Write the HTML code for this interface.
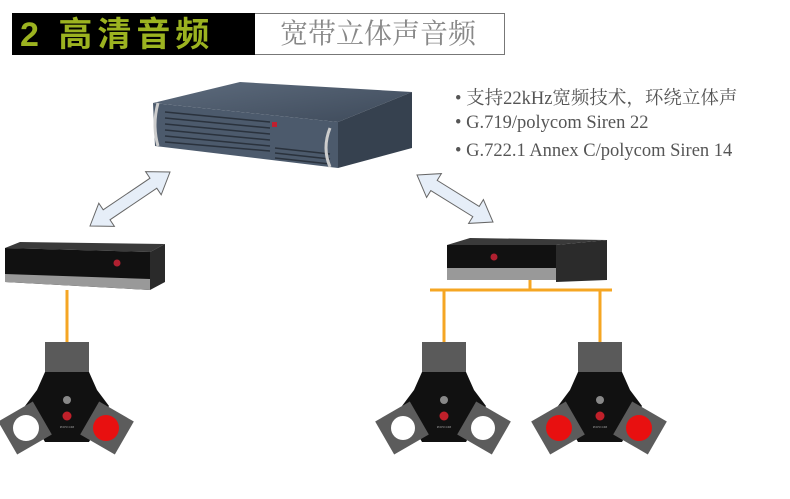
<!DOCTYPE html>
<html><head><meta charset="utf-8"><style>
body{margin:0;background:#fff;width:790px;height:499px;overflow:hidden;position:relative;font-family:"Liberation Serif","Noto Serif CJK SC",serif}
.t{position:absolute;left:455px;font-size:18.5px;color:#555;white-space:nowrap}
</style></head><body>
<div style="position:absolute;left:12px;top:13px;width:243px;height:42px;background:#000"></div>
<div style="position:absolute;left:20px;top:13px;height:42px;line-height:44px;font-family:'Liberation Sans','Noto Sans CJK SC',sans-serif;font-weight:bold;font-size:34px;color:#9cb320;letter-spacing:5px">2&nbsp;高清音频</div>
<div style="position:absolute;left:255px;top:13px;width:249px;height:40px;border:1px solid #777;border-left:none;background:#fff"></div>
<div style="position:absolute;left:280px;top:13px;height:42px;line-height:44px;font-size:28px;color:#888;font-family:'Liberation Serif','Noto Serif CJK SC',serif">宽带立体声音频</div>
<div class="t" style="top:84px">• 支持22kHz宽频技术，环绕立体声</div>
<div class="t" style="top:113px">• G.719/polycom Siren 22</div>
<div class="t" style="top:141px">• G.722.1 Annex C/polycom Siren 14</div>
<svg width="790" height="499" style="position:absolute;left:0;top:0">
<defs>
<linearGradient id="top" x1="0" y1="0" x2="1" y2="1"><stop offset="0" stop-color="#5d6b7d"/><stop offset="1" stop-color="#3e4a5a"/></linearGradient>
<g id="mic">
<rect x="-22" y="0" width="44" height="34" fill="#5a5a5a"/>
<path d="M-22,30 L22,30 L30,48 L42,64 L22,100 L-22,100 L-42,64 L-30,48 Z" fill="#111"/>
<g transform="translate(-42,86) rotate(-30)"><rect x="-20" y="-19" width="40" height="38" fill="#5c5c5c"/></g>
<g transform="translate(40,86) rotate(30)"><rect x="-20" y="-19" width="40" height="38" fill="#5c5c5c"/></g>
<circle cx="0" cy="58" r="4" fill="#888"/>
<circle cx="0" cy="74" r="4.5" fill="#c0202a"/>
<text x="0" y="86" font-size="3" fill="#aaa" text-anchor="middle">POLYCOM</text>
</g>
</defs>
<!-- server -->
<polygon points="153,103 240,82 412,92 338,122" fill="url(#top)"/>
<polygon points="153,103 338,122 338,168 155,146" fill="#4c5a6c"/>
<polygon points="338,122 412,92 412,148 338,168" fill="#36414f"/>
<g stroke="#2a323d" stroke-width="1.5">
<line x1="165" y1="112" x2="270" y2="122"/><line x1="165" y1="118" x2="270" y2="128"/><line x1="165" y1="124" x2="270" y2="134"/><line x1="165" y1="130" x2="270" y2="140"/><line x1="165" y1="136" x2="270" y2="146"/><line x1="165" y1="142" x2="270" y2="151"/>
<line x1="275" y1="148" x2="330" y2="154"/><line x1="275" y1="153" x2="330" y2="159"/><line x1="275" y1="158" x2="330" y2="164"/>
</g>
<rect x="272" y="122" width="5" height="5" fill="#c02030"/>
<path d="M158,103 Q152,125 158,146" stroke="#ccc" stroke-width="3" fill="none"/>
<path d="M330,128 Q322,148 330,167" stroke="#ccc" stroke-width="3" fill="none"/>
<!-- arrows -->
<polygon points="90,226 98.8,203.2 103.2,209.8 150,178.2 145.6,171.6 170,172 161.2,194.8 156.8,188.2 110,219.8 114.4,226.4" fill="#e6eef8" stroke="#666" stroke-width="1"/>
<polygon points="417,175 441.4,173.6 437.2,180.4 479.2,206.4 483.4,199.6 493,222 468.6,223.4 472.8,216.6 430.8,190.6 426.6,197.4" fill="#e6eef8" stroke="#666" stroke-width="1"/>
<!-- left box -->
<polygon points="5,248 20,242 165,244 150,252" fill="#3a3a3a"/>
<polygon points="5,248 150,252 150,290 5,282" fill="#111"/>
<polygon points="5,274 150,279 150,290 5,282" fill="#999"/>
<polygon points="150,252 165,244 165,282 150,290" fill="#2a2a2a"/>
<circle cx="117" cy="263" r="3.5" fill="#b02030"/>
<!-- right box -->
<polygon points="447,245 470,238 607,240 556,245" fill="#3a3a3a"/>
<rect x="447" y="245" width="109" height="35" fill="#111"/>
<rect x="447" y="268" width="109" height="12" fill="#999"/>
<polygon points="556,245 607,240 607,280 556,282" fill="#2b2b2b"/>
<circle cx="494" cy="257" r="3.5" fill="#b02030"/>
<!-- orange -->
<g stroke="#f5a623" stroke-width="3" fill="none">
<line x1="67" y1="290" x2="67" y2="344"/>
<line x1="530" y1="280" x2="530" y2="290"/>
<line x1="430" y1="290" x2="612" y2="290"/>
<line x1="444" y1="290" x2="444" y2="344"/>
<line x1="600" y1="290" x2="600" y2="344"/>
</g>
<!-- mics -->
<g transform="translate(67,342)"><use href="#mic"/><circle cx="-41" cy="86" r="13" fill="#fff"/><circle cx="39" cy="86" r="13" fill="#e81010"/></g>
<g transform="translate(444,342)"><use href="#mic"/><circle cx="-41" cy="86" r="12" fill="#fff"/><circle cx="39" cy="86" r="12" fill="#fff"/></g>
<g transform="translate(600,342)"><use href="#mic"/><circle cx="-41" cy="86" r="13" fill="#e81010"/><circle cx="39" cy="86" r="13" fill="#e81010"/></g>
</svg>
</body></html>
